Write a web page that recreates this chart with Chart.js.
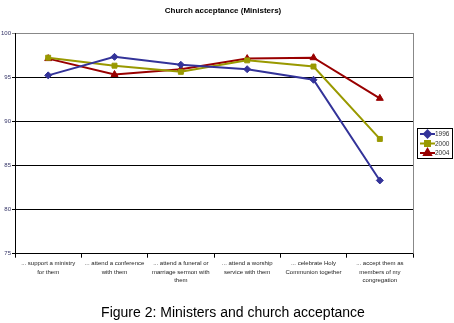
<!DOCTYPE html>
<html>
<head>
<meta charset="utf-8">
<script src="https://cdn.jsdelivr.net/npm/chart.js@4"></script>
<style>
  html, body { margin: 0; padding: 0; background: #fff; }
  #wrap { width: 454px; height: 323px; }
</style>
</head>
<body>
<div id="wrap"><canvas id="myChart" width="454" height="323"></canvas></div>
<script>
// Daten
const categories = [
  ['... support a ministry', 'for them'],
  ['... attend a conference', 'with them'],
  ['... attend a funeral or', 'marriage sermon with', 'them'],
  ['... attend a worship', 'service with them'],
  ['... celebrate Holy', 'Communion together'],
  ['... accept them as', 'members of my', 'congregation']
];
const seriesNames = ['1996', '2000', '2004'];
const values1996 = [95.2, 97.3, 96.4, 95.9, 94.7, 83.3];
const values2000 = [97.2, 96.3, 95.6, 96.9, 96.2, 88.0];
const values2004 = [97.1, 95.3, 95.9, 97.1, 97.2, 92.6];
const yTicks = [75, 80, 85, 90, 95, 100];
const chartTitle = 'Church acceptance (Ministers)';
const caption = 'Figure 2: Ministers and church acceptance';

const colors = ['#333399', '#999900', '#990000'];
const markers = ['rectRot', 'rect', 'triangle'];
const markerSize = [3.5, 3.5, 4];
const FONT = '"Liberation Sans", Arial, sans-serif';

const allValues = [values1996, values2000, values2004];
const datasets = seriesNames.map((name, i) => ({
  label: name,
  data: allValues[i],
  borderColor: colors[i],
  backgroundColor: colors[i],
  borderWidth: 2,
  pointStyle: markers[i],
  pointRadius: markerSize[i],
  pointBorderWidth: 1,
  tension: 0
}));

// Titel, Bildunterschrift, Legende mit Rahmen, grauer rechter Rand
const excelExtras = {
  id: 'excelExtras',
  afterDraw(chart) {
    const ctx = chart.ctx;
    const a = chart.chartArea;
    ctx.save();
    ctx.strokeStyle = '#888';
    ctx.lineWidth = 1;
    ctx.beginPath();
    ctx.moveTo(a.right + 0.5, a.top);
    ctx.lineTo(a.right + 0.5, a.bottom);
    ctx.stroke();

    // Titel + Unterschrift
    ctx.fillStyle = '#000';
    ctx.textAlign = 'center';
    ctx.textBaseline = 'middle';
    ctx.font = 'bold 8px ' + FONT;
    ctx.fillText(chartTitle, 223, 11);
    ctx.font = '14px ' + FONT;
    ctx.fillText(caption, 233, 313);

    // Legende
    const bx = 417, by = 128, bw = 35, bh = 30;
    ctx.strokeStyle = '#000';
    ctx.lineWidth = 1;
    ctx.strokeRect(bx + 0.5, by + 0.5, bw, bh);
    ctx.font = '6.5px ' + FONT;
    ctx.textAlign = 'left';
    chart.data.datasets.forEach((ds, i) => {
      const y = by + 6 + i * 9.5;
      ctx.strokeStyle = ds.borderColor;
      ctx.lineWidth = 2;
      ctx.beginPath();
      ctx.moveTo(bx + 3, y);
      ctx.lineTo(bx + 18, y);
      ctx.stroke();
      ctx.fillStyle = ds.borderColor;
      Chart.helpers.drawPoint(ctx, {
        pointStyle: ds.pointStyle, radius: ds.pointRadius, borderWidth: 1, rotation: 0
      }, bx + 10.5, y);
      ctx.fillStyle = '#333';
      ctx.fillText(ds.label, bx + 18, y + 0.5);
    });
    ctx.restore();
  }
};

const config = {
  type: 'line',
  data: { labels: categories, datasets: datasets },
  options: {
    responsive: false,
    animation: false,
    layout: { padding: { left: 0, right: 41, top: 33, bottom: 37 } },
    plugins: {
      legend: { display: false },
      tooltip: { enabled: false },
      title: { display: false }
    },
    scales: {
      x: {
        offset: true,
        grid: {
          offset: true,
          drawOnChartArea: false,
          drawTicks: true,
          tickLength: 4,
          color: '#000'
        },
        border: { color: '#000', width: 1 },
        ticks: {
          color: '#222',
          maxRotation: 0,
          minRotation: 0,
          autoSkip: false,
          padding: 2,
          font: { family: FONT, size: 6, lineHeight: 1.35 }
        }
      },
      y: {
        min: 75,
        max: 100,
        afterBuildTicks(scale) { scale.ticks = yTicks.map(v => ({ value: v })); },
        grid: {
          color: ctx => (ctx.tick && ctx.tick.value === 100) ? '#888' : '#000',
          lineWidth: 1,
          tickLength: 3
        },
        border: { color: '#000', width: 1 },
        ticks: {
          color: '#333366',
          padding: 1,
          font: { family: FONT, size: 6 }
        }
      }
    }
  },
  plugins: [excelExtras]
};

const chart = new Chart(document.getElementById('myChart'), config);
</script>
</body>
</html>
